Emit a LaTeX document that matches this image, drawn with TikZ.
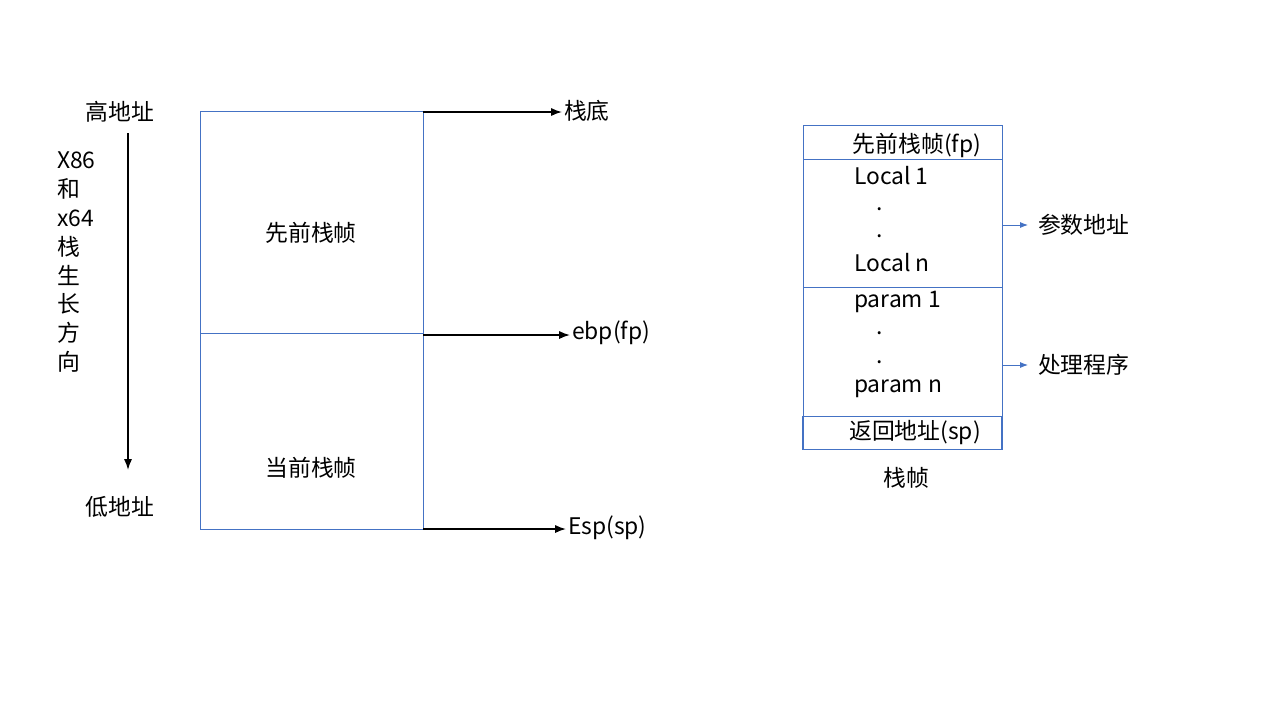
\documentclass[tikz,border=0pt]{standalone}
\usepackage{fontspec}
\setmainfont{Noto Sans CJK SC}
\usetikzlibrary{positioning, arrows.meta}
\definecolor{boxblue}{HTML}{4472C4}
\begin{document}
\begin{tikzpicture}[x=0.02cm, y=-0.02cm, font=\fontsize{13}{16}\selectfont,
    frame/.style={draw=boxblue, line width=0.45pt},
    ptr/.style={-{Latex[length=2.2mm]}, line width=0.9pt},
    tag/.style={-{Latex[length=1.6mm]}, draw=boxblue, line width=0.5pt},
    lbl/.style={inner sep=1pt}]
    \useasboundingbox (0,0) rectangle (1280,720);

    % left stack
    \draw [frame] (200,111) rectangle (423,529);
    \draw [frame] (200,333) -- (423,333);
    \node [lbl] (old) at (311,233) {先前栈帧};
    \node [lbl] (cur) at (311,468) {当前栈帧};
    \coordinate (top) at (423,112);
    \coordinate (mid) at (423,335);
    \coordinate (bot) at (423,529);
    \node [lbl, anchor=west] (base) at (562,111) {栈底};
    \node [lbl, anchor=west] (ebp) at (570,333) {ebp(fp)};
    \node [lbl, anchor=west] (esp) at (566,528) {Esp(sp)};
    \draw [ptr] (top) -- (base.west |- top);
    \draw [ptr] (mid) -- (ebp.west |- mid);
    \draw [ptr] (bot) -- (esp.west |- bot);

    % growth direction
    \node [lbl] (high) at (120,112) {高地址};
    \node [lbl] (low) at (120,507) {低地址};
    \coordinate (gtop) at (128,133);
    \coordinate (gbot) at (128,470);
    \draw [ptr] (gtop) -- (gbot);
    \node [lbl, anchor=north west, align=left, font=\fontsize{13}{16.4}\selectfont] (dir) at (55,150)
        {X86\\和\\x64\\栈\\生\\长\\方\\向};

    % right frame
    \draw [frame] (803,125) rectangle (1002,449);
    \draw [frame] (803,159) -- (1002,159);
    \draw [frame] (803,287) -- (1002,287);
    \draw [frame] (802,416) rectangle (1001,449);
    \node [lbl] (fp) at (917,145) {先前栈帧(fp)};
    \node [lbl, anchor=west] (l1) at (852,176) {Local 1};
    \node [lbl] (d1) at (880,209) {.};
    \node [lbl] (d2) at (880,236) {.};
    \node [lbl, anchor=west] (ln) at (852,263) {Local n};
    \node [lbl, anchor=west] (p1) at (852,302) {param 1};
    \node [lbl] (d3) at (880,333) {.};
    \node [lbl] (d4) at (880,362) {.};
    \node [lbl, anchor=west] (pn) at (852,389) {param n};
    \node [lbl] (ret) at (915,433) {返回地址(sp)};
    \node [lbl] (frm) at (906,478) {栈帧};
    \node [lbl, anchor=west] (args) at (1036,225) {参数地址};
    \node [lbl, anchor=west] (proc) at (1036,365) {处理程序};
    \coordinate (a1) at (1002,225);
    \coordinate (a2) at (1002,365);
    \draw [tag] (a1) -- (1028,225);
    \draw [tag] (a2) -- (1028,365);
\end{tikzpicture}
\end{document}
